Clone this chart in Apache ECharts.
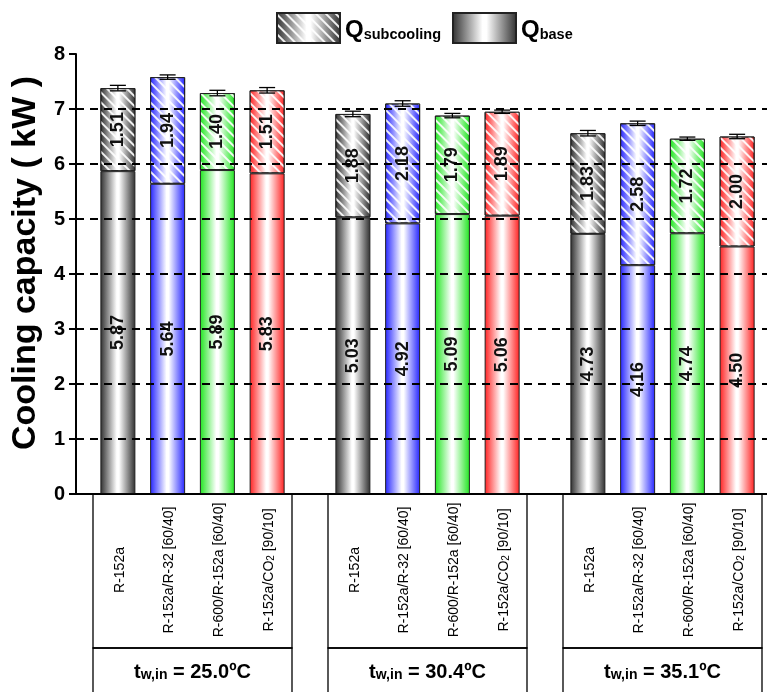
<!DOCTYPE html>
<html><head><meta charset="utf-8">
<script src="https://cdn.jsdelivr.net/npm/echarts@6/dist/echarts.min.js"></script>
<style>html,body{margin:0;padding:0;background:#fff}#c{width:767px;height:692px}</style>
</head><body><div id="c"></div>
<script>
// ---- data ----
const refrigerants = ['R-152a', 'R-152a/R-32 [60/40]', 'R-600/R-152a [60/40]', 'R-152a/CO₂ [90/10]'];
const waterTemps = ['25.0', '30.4', '35.1'];
const baseValues = [
  [5.87, 5.64, 5.89, 5.83],
  [5.03, 4.92, 5.09, 5.06],
  [4.73, 4.16, 4.74, 4.50]
];
const subcoolingValues = [
  [1.51, 1.94, 1.40, 1.51],
  [1.88, 2.18, 1.79, 1.89],
  [1.83, 2.58, 1.72, 2.00]
];
const errorValues = [
  [0.05, 0.04, 0.05, 0.05],
  [0.05, 0.05, 0.04, 0.03],
  [0.05, 0.04, 0.03, 0.04]
];
const yTicks = [0, 1, 2, 3, 4, 5, 6, 7, 8];
const legendNames = ['Qsubcooling', 'Qbase'];
const barColors = ['#2e2e2e', '#2424ff', '#1fe61f', '#ff2020'];

// ---- layout ----
const FONT = '"Liberation Sans", Arial, sans-serif';
const groupLeft = [93, 328, 563];
const groupWidth = 199;
const plotTop = 54, plotBottom = 198; // px from bottom
const axisY = 692 - plotBottom;

function grad(c) {
  return new echarts.graphic.LinearGradient(0, 0, 1, 0, [
    {offset: 0, color: c}, {offset: 0.47, color: '#ffffff'}, {offset: 0.53, color: '#ffffff'}, {offset: 1, color: c}
  ]);
}
const decal = {
  symbol: 'rect', symbolSize: 1,
  dashArrayX: [1, 0], dashArrayY: [1.3, 5],
  rotation: Math.PI / 4,
  color: 'rgba(255,255,255,0.9)'
};
const valueLabel = {
  show: true, position: 'inside', rotate: 90,
  fontFamily: FONT, fontSize: 18, fontWeight: 'bold', color: '#111',
  formatter: p => Number(p.value).toFixed(2)
};

const grids = [{left: 76, right: 0, top: plotTop, bottom: plotBottom, outerBoundsMode: 'none', containLabel: false}];
const xAxes = [{
  type: 'value', gridIndex: 0, position: 'top', min: 0, max: 1,
  axisLine: {show: true, lineStyle: {color: '#000', width: 2}},
  axisTick: {show: false}, axisLabel: {show: false}, splitLine: {show: false}
}];
const yAxes = [{
  type: 'value', gridIndex: 0, min: yTicks[0], max: yTicks[yTicks.length - 1], interval: 1, z: 5,
  name: 'Cooling capacity ( kW )', nameLocation: 'middle', nameGap: 29,
  nameTextStyle: {fontFamily: FONT, fontSize: 34, fontWeight: 'bold', color: '#000', padding: [0, 0, 0, 22]},
  axisLine: {show: true, lineStyle: {color: '#000', width: 2}},
  axisTick: {show: true, inside: false, length: 7, lineStyle: {color: '#000', width: 2}},
  axisLabel: {fontFamily: FONT, fontSize: 20, fontWeight: 'bold', color: '#000', margin: 11},
  splitLine: {show: true, showMinLine: false, showMaxLine: false, lineStyle: {color: '#000', width: 2, type: [8, 6]}}
}];
const series = [];
const graphics = [];

waterTemps.forEach((t, g) => {
  const gi = g + 1;
  grids.push({left: groupLeft[g], width: groupWidth, top: plotTop, bottom: plotBottom, outerBoundsMode: 'none', containLabel: false});
  xAxes.push({
    type: 'category', gridIndex: gi, data: refrigerants,
    axisLine: {show: false}, axisTick: {show: false},
    axisLabel: {
      interval: 0, rotate: 90, align: 'center', verticalAlign: 'middle', margin: 76,
      formatter: v => {
        const parts = v.split('₂');
        return parts.length > 1 ? '{a|' + parts[0] + '}{s|2}{a|' + parts[1] + '}' : '{a|' + v + '}';
      },
      rich: {
        a: {fontFamily: FONT, fontSize: 14, color: '#000', lineHeight: 18, verticalAlign: 'bottom'},
        s: {fontFamily: FONT, fontSize: 10, color: '#000', lineHeight: 8, verticalAlign: 'bottom'}
      }
    },
    name: '{t|t}{s|w,in}{t| = ' + t + 'ºC}', nameLocation: 'middle', nameGap: 162,
    nameTextStyle: {
      rich: {
        t: {fontFamily: FONT, fontSize: 20, fontWeight: 'bold', color: '#000', lineHeight: 26, verticalAlign: 'bottom'},
        s: {fontFamily: FONT, fontSize: 14, fontWeight: 'bold', color: '#000', lineHeight: 10, verticalAlign: 'bottom'}
      }
    }
  });
  yAxes.push({type: 'value', gridIndex: gi, min: 0, max: 8, show: false, splitLine: {show: false}});

  series.push({
    name: legendNames[1], type: 'bar', stack: 'g' + g, xAxisIndex: gi, yAxisIndex: gi,
    barWidth: 35,
    itemStyle: {color: grad(barColors[0]), borderColor: '#222', borderWidth: 1},
    label: valueLabel,
    data: baseValues[g].map((v, i) => ({value: v, itemStyle: {color: grad(barColors[i]), borderColor: '#222'}}))
  });
  series.push({
    name: legendNames[0], type: 'bar', stack: 'g' + g, xAxisIndex: gi, yAxisIndex: gi,
    barWidth: 35,
    itemStyle: {color: grad(barColors[0]), borderColor: '#222', borderWidth: 1, decal: decal},
    label: valueLabel,
    data: subcoolingValues[g].map((v, i) => ({value: v, itemStyle: {color: grad(barColors[i]), borderColor: '#222', decal: decal}}))
  });
  series.push({
    type: 'custom', xAxisIndex: gi, yAxisIndex: gi, z: 4,
    data: refrigerants.map((r, i) => [i, baseValues[g][i] + subcoolingValues[g][i], errorValues[g][i]]),
    encode: {x: 0, y: 1},
    renderItem: (params, api) => {
      const x = api.value(0), tot = api.value(1), e = api.value(2);
      const top = api.coord([x, tot + e]);
      const bot = api.coord([x, tot - e]);
      const h = 8;
      const st = {stroke: '#000', lineWidth: 1.3};
      return {type: 'group', children: [
        {type: 'line', shape: {x1: top[0], y1: top[1], x2: bot[0], y2: bot[1]}, style: st},
        {type: 'line', shape: {x1: top[0] - h, y1: top[1], x2: top[0] + h, y2: top[1]}, style: st},
        {type: 'line', shape: {x1: bot[0] - h, y1: bot[1], x2: bot[0] + h, y2: bot[1]}, style: st}
      ]};
    }
  });

  graphics.push({type: 'rect', shape: {x: groupLeft[g], y: axisY, width: groupWidth, height: 154},
    style: {fill: 'none', stroke: '#000', lineWidth: 1.3}, z: 10});
  graphics.push({type: 'rect', shape: {x: groupLeft[g], y: axisY + 154, width: groupWidth, height: 80},
    style: {fill: 'none', stroke: '#000', lineWidth: 1.3}, z: 10});
});

const option = {
  animation: false,
  textStyle: {fontFamily: FONT},
  legend: {
    left: 271, top: 7, itemWidth: 63, itemHeight: 30, itemGap: 11, icon: 'rect',
    selectedMode: false, data: legendNames,
    formatter: n => '{q|Q}{s|' + n.slice(1) + '}',
    textStyle: {
      rich: {
        q: {fontFamily: FONT, fontSize: 24, fontWeight: 'bold', color: '#000', lineHeight: 28, verticalAlign: 'bottom'},
        s: {fontFamily: FONT, fontSize: 14.5, fontWeight: 'bold', color: '#000', lineHeight: 10, verticalAlign: 'bottom'}
      }
    }
  },
  grid: grids, xAxis: xAxes, yAxis: yAxes, series: series, graphic: graphics
};
const chart = echarts.init(document.getElementById('c'), null, {renderer: 'canvas'});
chart.setOption(option);
</script></body></html>
